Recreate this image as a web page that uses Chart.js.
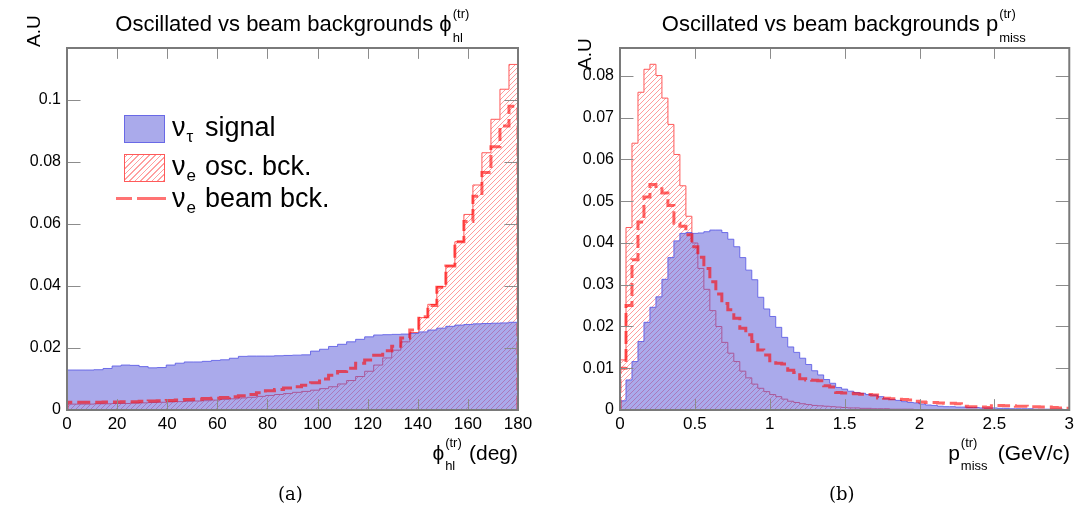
<!DOCTYPE html>
<html>
<head>
<meta charset="utf-8">
<script src="https://cdn.jsdelivr.net/npm/chart.js@4.4.1/dist/chart.umd.min.js"></script>
<style>
  body { margin: 0; background: #fff; }
  #page { position: relative; width: 1078px; height: 509px; overflow: hidden; font-family: 'Liberation Sans', Arial, sans-serif; color: #000; }
  canvas { position: absolute; top: 0; }
  .t { position: absolute; white-space: nowrap; line-height: 1; }
  .ss { display: inline-block; position: relative; height: 0; }
  .ss span { position: absolute; left: 1px; line-height: 1; }
  .cap { position: absolute; font-family: 'DejaVu Serif', 'Liberation Serif', serif; font-size: 18px; line-height: 1; }
  .sw { position: absolute; box-sizing: border-box; }
</style>
</head>
<body>
<div id="page">
  <canvas id="phiChart" width="539" height="509" style="left:0"></canvas>
  <canvas id="pChart" width="539" height="509" style="left:539px"></canvas>

  <!-- titres -->
  <div class="t" style="left:0; width:585px; top:13px; text-align:center; font-size:22px">Oscillated vs beam backgrounds ϕ<span class="ss" style="width:18px"><span style="font-size:13px; bottom:11px">(tr)</span><span style="font-size:13px; bottom:-13px">hl</span></span></div>
  <div class="t" style="left:560px; width:570px; top:13px; text-align:center; font-size:22px">Oscillated vs beam backgrounds p<span class="ss" style="width:30px"><span style="font-size:13px; bottom:11px">(tr)</span><span style="font-size:13px; bottom:-13px">miss</span></span></div>

  <!-- titres d'axes -->
  <div class="t" style="right:560px; top:442px; font-size:21px">ϕ<span class="ss" style="width:19px"><span style="font-size:13px; bottom:11px">(tr)</span><span style="font-size:13px; bottom:-12px">hl</span></span> (deg)</div>
  <div class="t" style="right:8px; top:442px; font-size:21px">p<span class="ss" style="width:32px"><span style="font-size:13px; bottom:11px">(tr)</span><span style="font-size:13px; bottom:-12px">miss</span></span> (GeV/c)</div>
  <div class="t" style="left:24px; top:47px; font-size:19px; transform:rotate(-90deg); transform-origin:0 0">A.U</div>
  <div class="t" style="left:575px; top:70px; font-size:19px; transform:rotate(-90deg); transform-origin:0 0">A.U</div>

  <!-- légende -->
  <div class="sw" style="left:124px; top:115px; width:41px; height:28px; background:rgba(85,85,215,0.5); border:1px solid rgba(90,90,230,0.8)"></div>
  <div class="t" style="left:172px; top:114px; font-size:27px">ν<span class="ss" style="width:12px"><span style="font-size:17px; bottom:-9px">τ</span></span> signal</div>
  <div class="sw" style="left:124px; top:154px; width:41px; height:28px; border:1px solid #ff5a5a; background:repeating-linear-gradient(-45deg, #ffa0a0 0 1px, #fff 1px 4px)"></div>
  <div class="t" style="left:172px; top:153px; font-size:27px">ν<span class="ss" style="width:12px"><span style="font-size:17px; bottom:-9px">e</span></span> osc. bck.</div>
  <div class="sw" style="left:116px; top:197px; width:16px; height:3px; background:rgba(255,0,0,0.55)"></div>
  <div class="sw" style="left:137px; top:197px; width:29px; height:3px; background:rgba(255,0,0,0.55)"></div>
  <div class="t" style="left:172px; top:185px; font-size:27px">ν<span class="ss" style="width:12px"><span style="font-size:17px; bottom:-9px">e</span></span> beam bck.</div>

  <div class="cap" style="left:278px; top:485px">(a)</div>
  <div class="cap" style="left:829px; top:485px">(b)</div>
</div>

<script>
// φhl : 50 bins de 3.6 deg
const phiBinWidth = 3.6;
const phiSignal = [
  0.0129, 0.0129, 0.0129, 0.0130, 0.0134, 0.0142, 0.0145, 0.0144, 0.0140, 0.0136,
  0.0137, 0.0145, 0.0151, 0.0155, 0.0155, 0.0157, 0.0160, 0.0162, 0.0167, 0.0173,
  0.0174, 0.0174, 0.0174, 0.0175, 0.0176, 0.0177, 0.0178, 0.0190, 0.0196, 0.0205,
  0.0212, 0.0220, 0.0228, 0.0236, 0.0242, 0.0243, 0.0244, 0.0245, 0.0247, 0.0252,
  0.0258, 0.0264, 0.0270, 0.0274, 0.0276, 0.0278, 0.0279, 0.0280, 0.0281, 0.0283
];
const phiOscBck = [
  0.0019, 0.0019, 0.0019, 0.0020, 0.0020, 0.0021, 0.0021, 0.0022, 0.0023, 0.0024,
  0.0025, 0.0026, 0.0027, 0.0028, 0.0029, 0.0030, 0.0032, 0.0034, 0.0036, 0.0039,
  0.0041, 0.0044, 0.0047, 0.0050, 0.0053, 0.0057, 0.0060, 0.0064, 0.0069, 0.0075,
  0.0084, 0.0095, 0.0108, 0.0125, 0.0145, 0.0168, 0.0193, 0.0220, 0.0250, 0.0298,
  0.0341, 0.0398, 0.0465, 0.0543, 0.0631, 0.0726, 0.0830, 0.0938, 0.1035, 0.1115
];
const phiBeamBck = [
  0.0025, 0.0025, 0.0025, 0.0025, 0.0026, 0.0026, 0.0027, 0.0027, 0.0028, 0.0029,
  0.0030, 0.0031, 0.0032, 0.0034, 0.0035, 0.0037, 0.0038, 0.0040, 0.0043, 0.0046,
  0.0050, 0.0056, 0.0062, 0.0066, 0.0071, 0.0075, 0.0080, 0.0088, 0.0100, 0.0112,
  0.0124, 0.0135, 0.0151, 0.0161, 0.0177, 0.0191, 0.0206, 0.0232, 0.0258, 0.0301,
  0.0337, 0.0396, 0.0465, 0.0543, 0.0608, 0.0690, 0.0766, 0.0849, 0.0916, 0.0980
];
const phiXTicks = [0, 20, 40, 60, 80, 100, 120, 140, 160, 180];
const phiYTicks = [0, 0.02, 0.04, 0.06, 0.08, 0.1];

// pmiss : 75 bins de 0.04 GeV/c
const pBinWidth = 0.04;
const pSignal = [
  0.0022, 0.0072, 0.0116, 0.0164, 0.0210, 0.0246, 0.0271, 0.0313, 0.0365, 0.0405,
  0.0423, 0.0425, 0.0423, 0.0424, 0.0427, 0.0431, 0.0431, 0.0425, 0.0409, 0.0391,
  0.0365, 0.0335, 0.0312, 0.0270, 0.0242, 0.0224, 0.0198, 0.0174, 0.0151, 0.0138,
  0.0124, 0.0109, 0.0094, 0.0084, 0.0073, 0.0064, 0.0054, 0.0050, 0.0045, 0.0042,
  0.0040, 0.0037, 0.0036, 0.0032, 0.0027, 0.0025, 0.0023, 0.0020, 0.0018, 0.0017,
  0.0014, 0.0012, 0.0011, 0.0009, 0.0008, 0.0008, 0.0007, 0.0007, 0.0006, 0.0006,
  0.0005, 0.0005, 0.0005, 0.0004, 0.0004, 0.0003, 0.0003, 0.0003, 0.0003, 0.0002,
  0.0002, 0.0002, 0.0002, 0.0002, 0.0001
];
const pOscBck = [
  0.0120, 0.0437, 0.0639, 0.0761, 0.0816, 0.0828, 0.0801, 0.0747, 0.0684, 0.0612,
  0.0537, 0.0464, 0.0400, 0.0339, 0.0289, 0.0238, 0.0200, 0.0162, 0.0136, 0.0116,
  0.0093, 0.0077, 0.0062, 0.0052, 0.0044, 0.0037, 0.0032, 0.0026, 0.0021, 0.0018,
  0.0015, 0.0013, 0.0011, 0.0010, 0.0009, 0.0008, 0.0007, 0.0006, 0.0005, 0.0005,
  0.0004, 0.0004, 0.0003, 0.0003, 0.0003, 0.0002, 0.0002, 0.0002, 0.0002, 0.0001,
  0.0001, 0.0001, 0.0001, 0.0001, 0.0001, 0.0001, 0.0001, 0.0001, 0.0001, 0.0001,
  0.0001, 0.0001, 0.0001, 0.0001, 0.0001, 0, 0, 0, 0, 0,
  0, 0, 0, 0, 0
];
const pBeamBck = [
  0.0100, 0.0250, 0.0360, 0.0450, 0.0510, 0.0540, 0.0535, 0.0520, 0.0490, 0.0447,
  0.0440, 0.0420, 0.0391, 0.0366, 0.0339, 0.0307, 0.0278, 0.0255, 0.0240, 0.0220,
  0.0196, 0.0180, 0.0164, 0.0144, 0.0132, 0.0118, 0.0112, 0.0110, 0.0095, 0.0090,
  0.0075, 0.0072, 0.0071, 0.0070, 0.0058, 0.0055, 0.0042, 0.0041, 0.0040, 0.0039,
  0.0038, 0.0037, 0.0036, 0.0029, 0.0028, 0.0027, 0.0026, 0.0025, 0.0024, 0.0021,
  0.0019, 0.0018, 0.0018, 0.0017, 0.0016, 0.0016, 0.0015, 0.0009, 0.0008, 0.0008,
  0.0007, 0.0006, 0.0010, 0.0011, 0.0010, 0.0010, 0.0009, 0.0009, 0.0008, 0.0008,
  0.0007, 0.0007, 0.0006, 0.0005, 0.0004
];
const pXTicks = [0, 0.5, 1, 1.5, 2, 2.5, 3];
const pYTicks = [0, 0.01, 0.02, 0.03, 0.04, 0.05, 0.06, 0.07, 0.08];

// couleurs
const signalFill = 'rgba(85, 85, 215, 0.5)';
const signalLine = 'rgba(90, 90, 230, 0.85)';
const oscLine = '#ff5a5a';
const beamLine = 'rgba(255, 0, 0, 0.6)';

// motif hachuré ////
function hatchPattern(color, size) {
  const c = document.createElement('canvas');
  c.width = size;
  c.height = size;
  const g = c.getContext('2d');
  g.strokeStyle = color;
  g.lineWidth = 1;
  g.beginPath();
  for (const k of [-size, 0, size]) {
    g.moveTo(k, size);
    g.lineTo(k + size, 0);
  }
  g.stroke();
  return g.createPattern(c, 'repeat');
}

// contenu d'un histogramme -> points en escalier
function histPoints(values, width) {
  const pts = [{ x: 0, y: 0 }];
  values.forEach((v, i) => pts.push({ x: i * width, y: v }));
  const end = values.length * width;
  pts.push({ x: end, y: values[values.length - 1] });
  pts.push({ x: end, y: 0 });
  return pts;
}

// cadre + graduations internes façon ROOT
const rootFrame = {
  id: 'rootFrame',
  afterDraw(chart) {
    const { ctx, chartArea: a, scales: { x, y } } = chart;
    const xTick = (a.bottom - a.top) * 0.03;
    const yTick = (a.right - a.left) * 0.03;
    ctx.save();
    ctx.strokeStyle = '#8c8c8c';
    ctx.lineWidth = 1;
    ctx.beginPath();
    x.ticks.forEach(t => {
      const px = Math.round(x.getPixelForValue(t.value)) + 0.5;
      ctx.moveTo(px, a.bottom); ctx.lineTo(px, a.bottom - xTick);
      ctx.moveTo(px, a.top); ctx.lineTo(px, a.top + xTick);
    });
    y.ticks.forEach(t => {
      const py = Math.round(y.getPixelForValue(t.value)) + 0.5;
      ctx.moveTo(a.left, py); ctx.lineTo(a.left + yTick, py);
      ctx.moveTo(a.right, py); ctx.lineTo(a.right - yTick, py);
    });
    ctx.stroke();
    ctx.lineWidth = 2;
    ctx.strokeStyle = '#7a7a7a';
    ctx.strokeRect(a.left, a.top, a.right - a.left, a.bottom - a.top);
    ctx.restore();
  }
};

function makeChart(id, opts) {
  const ctx = document.getElementById(id).getContext('2d');
  const hatch = hatchPattern('#ff9c9c', 5);
  return new Chart(ctx, {
    type: 'line',
    data: {
      datasets: [
        {
          label: 'νe beam bck.',
          data: histPoints(opts.beam, opts.binWidth),
          stepped: true,
          borderColor: beamLine,
          borderWidth: 3,
          borderDash: [13, 5],
          fill: false,
          pointRadius: 0,
          order: 0
        },
        {
          label: 'ντ signal',
          data: histPoints(opts.signal, opts.binWidth),
          stepped: true,
          borderColor: signalLine,
          borderWidth: 1,
          backgroundColor: signalFill,
          fill: 'origin',
          pointRadius: 0,
          order: 1
        },
        {
          label: 'νe osc. bck.',
          data: histPoints(opts.osc, opts.binWidth),
          stepped: true,
          borderColor: oscLine,
          borderWidth: 1,
          backgroundColor: hatch,
          fill: 'origin',
          pointRadius: 0,
          order: 2
        }
      ]
    },
    options: {
      responsive: false,
      animation: false,
      layout: { padding: { top: 48, right: opts.padRight, bottom: 0, left: 0 } },
      plugins: { legend: { display: false }, tooltip: { enabled: false } },
      scales: {
        x: {
          type: 'linear',
          min: opts.xTicks[0],
          max: opts.xTicks[opts.xTicks.length - 1],
          afterBuildTicks: s => { s.ticks = opts.xTicks.map(v => ({ value: v })); },
          afterFit: s => { s.height = 99; },
          grid: { display: false, drawTicks: false },
          border: { display: false },
          ticks: {
            padding: 4,
            maxRotation: 0,
            color: '#000',
            font: { family: "'Liberation Sans', Arial, sans-serif", size: 17 },
            callback: v => String(v)
          }
        },
        y: {
          min: 0,
          max: opts.yMax,
          afterBuildTicks: s => { s.ticks = opts.yTicks.map(v => ({ value: v })); },
          afterFit: s => { s.width = opts.yWidth; },
          grid: { display: false, drawTicks: false },
          border: { display: false },
          ticks: {
            padding: 6,
            color: '#000',
            font: { family: "'Liberation Sans', Arial, sans-serif", size: 16 },
            callback: v => String(+v.toFixed(3))
          }
        }
      }
    },
    plugins: [rootFrame]
  });
}

makeChart('phiChart', {
  signal: phiSignal, osc: phiOscBck, beam: phiBeamBck, binWidth: phiBinWidth,
  xTicks: phiXTicks, yTicks: phiYTicks, yMax: 0.1168, yWidth: 67, padRight: 21
});
makeChart('pChart', {
  signal: pSignal, osc: pOscBck, beam: pBeamBck, binWidth: pBinWidth,
  xTicks: pXTicks, yTicks: pYTicks, yMax: 0.0867, yWidth: 81, padRight: 8
});
</script>
</body>
</html>
